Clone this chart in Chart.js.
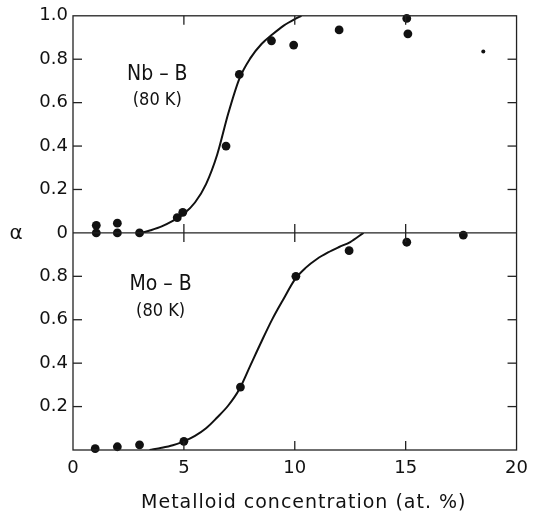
<!DOCTYPE html>
<html>
<head>
<meta charset="utf-8">
<script src="https://cdn.jsdelivr.net/npm/chart.js@4/dist/chart.umd.min.js"></script>
<style>
  html, body { margin: 0; background: #fff; }
  #wrap { width: 536px; height: 518px; }
</style>
</head>
<body>
<div id="wrap"><canvas id="alpha" width="536" height="518"></canvas></div>
<script>
// Nb-B measured points (80 K)
const nbConc  = [1.05, 1.05, 2, 2, 3, 4.7, 4.95, 6.9, 7.5, 8.95, 9.95, 12, 15.05, 15.1];
const nbAlpha = [0.035, 0, 0.045, 0, 0, 0.07, 0.095, 0.40, 0.73, 0.885, 0.865, 0.935, 0.988, 0.917];
const nbOddConc  = [18.5];
const nbOddAlpha = [0.835];
// Nb-B guide curve
const nbFitConc  = [3.1, 3.5, 4, 4.5, 5, 5.5, 6, 6.5, 7, 7.5, 8, 8.5, 9, 9.5, 10, 10.3];
const nbFitAlpha = [0, 0.012, 0.03, 0.055, 0.088, 0.14, 0.225, 0.36, 0.55, 0.71, 0.805, 0.87, 0.915, 0.955, 0.985, 1.0];

// Mo-B measured points (80 K)
const moConc  = [1, 2, 3, 5, 7.55, 10.05, 12.45, 15.05, 17.6];
const moAlpha = [0.006, 0.015, 0.024, 0.04, 0.29, 0.80, 0.918, 0.957, 0.99];
// Mo-B guide curve
const moFitConc  = [3.45, 4, 4.5, 5, 5.5, 6, 6.5, 7, 7.5, 8, 8.5, 9, 9.5, 10, 10.5, 11, 11.5, 12, 12.5, 13.1];
const moFitAlpha = [0, 0.01, 0.022, 0.04, 0.065, 0.10, 0.15, 0.205, 0.28, 0.39, 0.5, 0.605, 0.697, 0.785, 0.84, 0.88, 0.91, 0.935, 0.958, 1.0];

const xTicks = [0, 5, 10, 15, 20];
const yTicks = [0, 0.2, 0.4, 0.6, 0.8, 1.0];
const xTitle = 'Metalloid concentration (at. %)';

const panelLabels = [
  {axis: 'yTop', x: 3.8, y: 0.73, text: 'Nb – B', size: 21},
  {axis: 'yTop', x: 3.8, y: 0.61, text: '(80 K)', size: 18},
  {axis: 'yBot', x: 3.95, y: 0.76, text: 'Mo – B', size: 21},
  {axis: 'yBot', x: 3.95, y: 0.64, text: '(80 K)', size: 18},
];

const FONT = '"DejaVu Sans", sans-serif';
const NARROW = '"DejaVu Sans Condensed", "DejaVu Sans", sans-serif';
const INK = '#111';

const pts = (xs, ys) => xs.map((x, i) => ({x, y: ys[i]}));

const dots = (data, axis, r) => ({
  data, yAxisID: axis, showLine: false, clip: false,
  pointRadius: r, pointHoverRadius: r, pointBackgroundColor: INK, pointBorderWidth: 0
});
const curve = (data, axis) => ({
  data, yAxisID: axis, showLine: true, pointRadius: 0, borderColor: INK, borderWidth: 2,
  cubicInterpolationMode: 'monotone'
});

// frame, inward tick marks, captions and axis title
const panelMarks = {
  id: 'panelMarks',
  afterDraw(chart) {
    const {ctx, chartArea: a, scales} = chart;
    const x = scales.x, yt = scales.yTop, yb = scales.yBot;
    const seg = (x1, y1, x2, y2) => { ctx.beginPath(); ctx.moveTo(x1, y1); ctx.lineTo(x2, y2); ctx.stroke(); };
    const T = 9;
    ctx.save();
    ctx.strokeStyle = '#222';
    ctx.lineWidth = 1.3;
    ctx.strokeRect(a.left, a.top, a.right - a.left, a.bottom - a.top);
    const mid = yt.getPixelForValue(0);
    seg(a.left, mid, a.right, mid);
    for (const s of [yt, yb]) {
      yTicks.forEach(v => {
        if (v <= 0 || v >= 1) return;
        const py = s.getPixelForValue(v);
        seg(a.left, py, a.left + T, py);
        seg(a.right - T, py, a.right, py);
      });
    }
    xTicks.forEach(v => {
      if (v <= 0 || v >= 20) return;
      const px = x.getPixelForValue(v);
      seg(px, a.top, px, a.top + T);
      seg(px, mid - T, px, mid + T);
      seg(px, a.bottom - T, px, a.bottom);
    });
    ctx.fillStyle = INK;
    ctx.textAlign = 'center';
    ctx.textBaseline = 'middle';
    panelLabels.forEach(l => {
      ctx.font = l.size + 'px ' + NARROW;
      ctx.fillText(l.text, x.getPixelForValue(l.x), scales[l.axis].getPixelForValue(l.y));
    });
    ctx.font = '20px ' + FONT;
    ctx.fillText('α', 16, mid + 1);
    ctx.font = '19px ' + FONT;
    ctx.letterSpacing = '1px';
    ctx.fillText(xTitle, (a.left + a.right) / 2 + 9, 503);
    ctx.restore();
  }
};

const yAxis = (labelFn) => ({
  type: 'linear', position: 'left', stack: 'panels', stackWeight: 1,
  min: 0, max: 1,
  afterBuildTicks: s => { s.ticks = yTicks.map(v => ({value: v})); },
  afterFit: s => { s.width = 73; },
  grid: {display: false, drawTicks: false},
  border: {display: false},
  ticks: {color: INK, padding: 5, font: {family: FONT, size: 18}, callback: labelFn}
});

new Chart(document.getElementById('alpha'), {
  type: 'scatter',
  data: {
    datasets: [
      curve(pts(nbFitConc, nbFitAlpha), 'yTop'),
      dots(pts(nbConc, nbAlpha), 'yTop', 4.4),
      dots(pts(nbOddConc, nbOddAlpha), 'yTop', 2),
      curve(pts(moFitConc, moFitAlpha), 'yBot'),
      dots(pts(moConc, moAlpha), 'yBot', 4.4),
    ]
  },
  options: {
    responsive: false,
    animation: false,
    events: [],
    layout: {padding: {left: 0, right: 14, top: 15, bottom: 0}},
    plugins: {legend: {display: false}, tooltip: {enabled: false}},
    scales: {
      x: {
        type: 'linear', min: 0, max: 20,
        afterBuildTicks: s => { s.ticks = xTicks.map(v => ({value: v})); },
        afterFit: s => { s.height = 68; },
        grid: {display: false, drawTicks: false},
        border: {display: false},
        ticks: {color: INK, padding: 8, maxRotation: 0, font: {family: FONT, size: 18}}
      },
      yBot: yAxis(v => (v <= 0 || v >= 1) ? '' : v.toFixed(1)),
      yTop: yAxis(v => v === 0 ? '0' : v.toFixed(1)),
    }
  },
  plugins: [panelMarks]
});
</script>
</body>
</html>
